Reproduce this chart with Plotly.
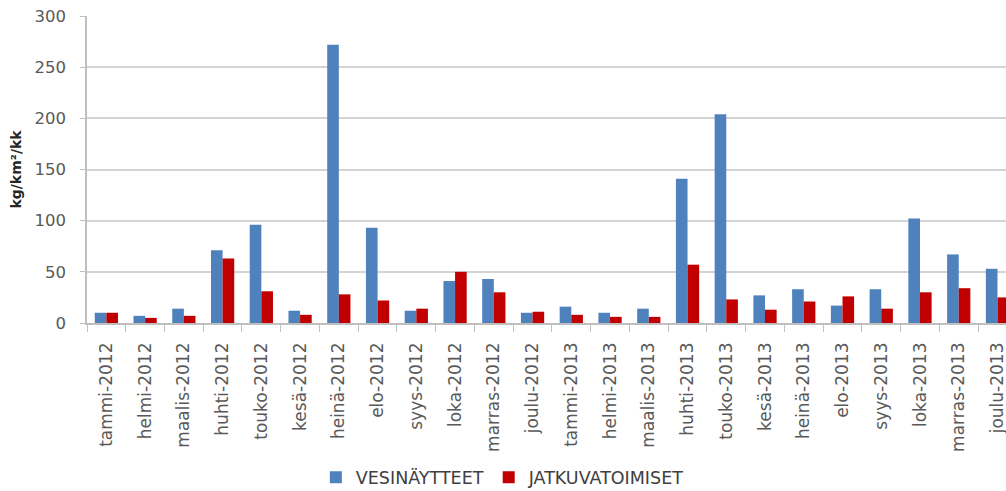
import plotly.graph_objects as go

# Monthly loads, kg/km²/kk, Jan 2012 – Dec 2013
months = [
    "tammi-2012", "helmi-2012", "maalis-2012", "huhti-2012", "touko-2012", "kesä-2012",
    "heinä-2012", "elo-2012", "syys-2012", "loka-2012", "marras-2012", "joulu-2012",
    "tammi-2013", "helmi-2013", "maalis-2013", "huhti-2013", "touko-2013", "kesä-2013",
    "heinä-2013", "elo-2013", "syys-2013", "loka-2013", "marras-2013", "joulu-2013",
]
vesinaytteet = [10, 7, 14, 71, 96, 12, 272, 93, 12, 41, 43, 10,
                16, 10, 14, 141, 204, 27, 33, 17, 33, 102, 67, 53]
jatkuvatoimiset = [10, 5, 7, 63, 31, 8, 28, 22, 14, 50, 30, 11,
                   8, 6, 6, 57, 23, 13, 21, 26, 14, 30, 34, 25]
y_ticks = [0, 50, 100, 150, 200, 250, 300]

FONT = "DejaVu Sans"
TICK_COLOR = "#595959"

fig = go.Figure()
fig.add_trace(go.Bar(name="VESINÄYTTEET", x=months, y=vesinaytteet,
                     marker=dict(color="#4F81BD", line=dict(width=0))))
fig.add_trace(go.Bar(name="JATKUVATOIMISET", x=months, y=jatkuvatoimiset,
                     marker=dict(color="#C00000", line=dict(width=0))))

fig.update_layout(
    width=1006, height=491,
    margin=dict(l=87, r=0, t=16, b=168),
    paper_bgcolor="white", plot_bgcolor="white",
    barmode="group", bargap=0.4, bargroupgap=0,
    font=dict(family=FONT, size=16, color=TICK_COLOR),
    showlegend=True,
    legend=dict(orientation="h", x=0.249, xanchor="left",
                yref="container", y=0.028, yanchor="middle",
                font=dict(family=FONT, size=17.5, color="#404040"),
                traceorder="normal"),
    xaxis=dict(
        type="category", range=[-0.5, 23.22], automargin=False,
        tickangle=-90, tickfont=dict(family=FONT, size=17, color=TICK_COLOR),
        ticks="outside", tickson="boundaries", ticklen=7, tickcolor="#BFBFBF",
        showline=True, linecolor="#BFBFBF", linewidth=1.5,
        showgrid=False, ticklabelstandoff=11,
    ),
    yaxis=dict(
        range=[0, 300], tickvals=y_ticks, automargin=False,
        tickfont=dict(family=FONT, size=16.5, color=TICK_COLOR),
        ticks="outside", ticklen=5, tickcolor="#BFBFBF",
        showline=True, linecolor="#BFBFBF", linewidth=1.5,
        showgrid=True, gridcolor="#D4D4D4", gridwidth=1.6,
        zeroline=False, ticklabelstandoff=11,
        title=dict(text="<b>kg/km²/kk</b>", standoff=10,
                   font=dict(family=FONT, size=14, color="#262626")),
    ),
)

fig.write_html("out.html")
